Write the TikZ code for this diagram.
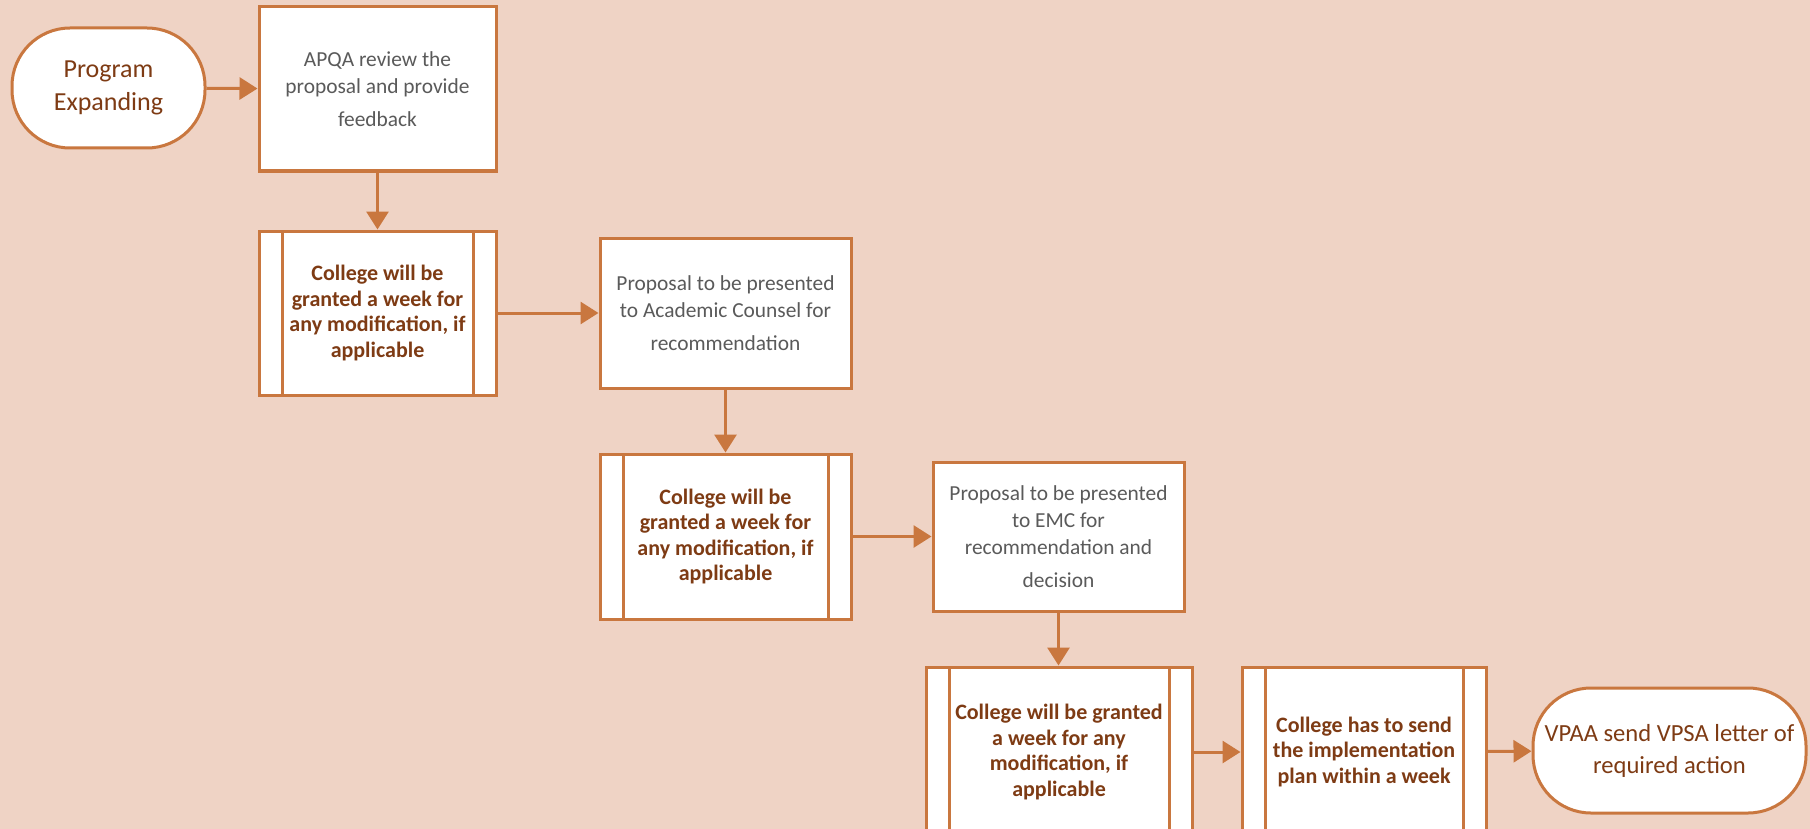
\documentclass[tikz,border=0pt]{standalone}
\usepackage{fontspec}
\setmainfont{Carlito}
\usepackage{xcolor}
\usetikzlibrary{arrows.meta,positioning}
\definecolor{bgpeach}{HTML}{EFD3C5}
\definecolor{edgeorange}{HTML}{C9773F}
\definecolor{textbrown}{HTML}{7E3B14}
\definecolor{textgray}{HTML}{5A5A5A}
\tikzset{%
	terminal/.style = {draw=edgeorange, line width=1.5pt, fill=white, rectangle, rounded corners=29pt, text centered, align=center, text=textbrown},
	process/.style  = {draw=edgeorange, line width=1.5pt, fill=white, rectangle, text centered, align=center, text=textgray, font=\fontsize{10.7}{13.5}\selectfont},
	subproc/.style  = {draw=edgeorange, line width=1.5pt, fill=white, rectangle, text centered, align=center, text=textbrown, font=\bfseries\fontsize{11}{12.8}\selectfont,
		path picture={\draw[edgeorange, line width=1.5pt]
			([xshift=11.5pt]path picture bounding box.north west) -- ([xshift=11.5pt]path picture bounding box.south west)
			([xshift=-11.5pt]path picture bounding box.north east) -- ([xshift=-11.5pt]path picture bounding box.south east);}},
	arrow/.style    = {draw=edgeorange, line width=1.5pt, -{Triangle[length=9pt,width=11pt]}},
}
\begin{document}
\begin{tikzpicture}[x=0.5pt,y=-0.5pt]
	\fill[bgpeach] (0,0) rectangle (1810,829);
	\clip (0,0) rectangle (1810,829);
	
	% first row
	\node[terminal, minimum width=96.5pt, minimum height=60pt, font=\fontsize{13}{16.5}\selectfont] (start) at (108.5,88) {Program\\Expanding};
	\node[process, minimum width=118.5pt, minimum height=82pt] (apqa) at (377.5,89) {APQA review the\\proposal and provide\\[3pt]feedback};
	
	% steps going down to the right
	\node[subproc, minimum width=118.5pt, minimum height=82pt] (mod1) at (377.5,313) {College will be\\granted a week for\\any modification, if\\applicable};
	\node[process, minimum width=125.5pt, minimum height=75pt] (acad) at (725.5,313) {Proposal to be presented\\to Academic Counsel for\\[3pt]recommendation};
	\node[subproc, minimum width=125.5pt, minimum height=82.5pt] (mod2) at (725.5,536.5) {College will be\\granted a week for\\any modification, if\\applicable};
	\node[process, minimum width=125.5pt, minimum height=74.5pt] (emc) at (1058.5,536.5) {Proposal to be presented\\to EMC for\\recommendation and\\[3pt]decision};
	
	% last row
	\node[subproc, minimum width=133pt, minimum height=85pt] (mod3) at (1059,752) {College will be granted\\a week for any\\modification, if\\applicable};
	\node[subproc, minimum width=122pt, minimum height=85pt] (send) at (1364,752) {College has to send\\the implementation\\plan within a week};
	\node[terminal, minimum width=136.5pt, minimum height=62.5pt, font=\fontsize{12.3}{16}\selectfont] (stop) at (1669.5,750.5) {VPAA send VPSA letter of\\required action};
	
	\draw[arrow] (start) -- (apqa);
	\draw[arrow] (apqa) -- (mod1);
	\draw[arrow] (mod1) -- (acad);
	\draw[arrow] (acad) -- (mod2);
	\draw[arrow] (mod2) -- (emc);
	\draw[arrow] (emc.south) -- (emc.south |- mod3.north);
	\draw[arrow] (mod3) -- (send);
	\draw[arrow] (send) -- (stop);
\end{tikzpicture}
\end{document}
